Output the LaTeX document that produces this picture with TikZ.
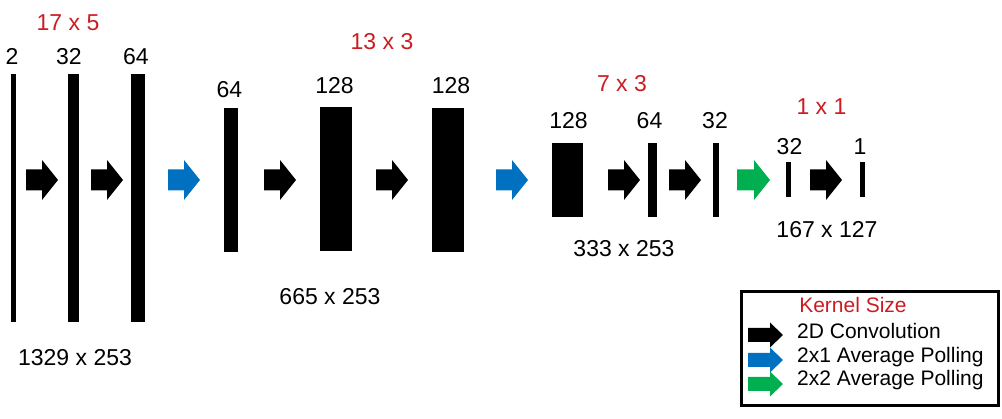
\documentclass[tikz,border=0pt]{standalone}
\usepackage{fontspec}
\setmainfont{Liberation Sans}
\definecolor{kred}{RGB}{204,28,34}
\definecolor{pblue}{RGB}{0,112,192}
\definecolor{pgreen}{RGB}{0,176,80}
% x, y, length, shaft length, half shaft, half head, colour
\newcommand\farrow[7]{%
  \fill[#7] (#1,#2-#5) -- ++(#4,0) -- (#1+#4,#2-#6) -- (#1+#3,#2)
    -- (#1+#4,#2+#6) -- (#1+#4,#2+#5) -- (#1,#2+#5) -- cycle;}
\newcommand\bigarr[2]{\farrow{#1}{180}{32}{16}{10.5}{20}{#2}}
\newcommand\legarr[2]{\farrow{748}{#1}{35}{22}{7}{12.5}{#2}}
\begin{document}
\begin{tikzpicture}[x=1pt,y=-1pt,
  bar/.style={fill=black,draw=none,inner sep=0pt,outer sep=0pt},
  lab/.style={inner sep=0pt,anchor=base,font=\fontsize{23}{27}\selectfont},
  klab/.style={lab,text=kred},
  leg/.style={inner sep=0pt,anchor=base west,font=\fontsize{21}{25}\selectfont}]
\useasboundingbox (0,0) rectangle (1002,419);
% bars: centre and size
\newcommand\barnode[5]{\node[bar,minimum width=#4pt,minimum height=#5pt] (#1) at (#2,#3) {};}
\barnode{b1}{13.5}{198}{5}{248}
\barnode{b2}{73.5}{198}{11}{248}
\barnode{b3}{138}{198}{14}{248}
\barnode{b4}{231}{180}{14}{144}
\barnode{b5}{336}{179}{32}{144}
\barnode{b6}{448}{180}{32}{144}
\barnode{b7}{567.5}{180}{31}{74}
\barnode{b8}{652.5}{180}{9}{74}
\barnode{b9}{716}{180}{6}{74}
\barnode{b10}{788.5}{179.5}{5}{35}
\barnode{b11}{862.5}{179.5}{5}{35}
% arrows
\bigarr{26}{black}
\bigarr{91}{black}
\bigarr{168}{pblue}
\bigarr{264}{black}
\bigarr{376}{black}
\bigarr{496}{pblue}
\bigarr{608}{black}
\bigarr{669}{black}
\farrow{737}{180}{33}{17}{10.5}{20}{pgreen}
\bigarr{810}{black}
% labels
\node[klab] (k1) at (68,31) {17 x 5};
\node[lab] (l1) at (12,65) {2};
\node[lab] (l2) at (69,65) {32};
\node[lab] (l3) at (136,65) {64};
\node[lab] (l4) at (229.5,98) {64};
\node[klab] (k2) at (382,50) {13 x 3};
\node[lab] (l5) at (334.5,94) {128};
\node[lab] (l6) at (451,94) {128};
\node[lab] (s2) at (330,305) {665 x 253};
\node[lab] (s1) at (75,366) {1329 x 253};
\node[klab] (k3) at (622,91.5) {7 x 3};
\node[lab] (l7) at (568.5,129) {128};
\node[lab] (l8) at (649.5,129) {64};
\node[lab] (l9) at (715,129) {32};
\node[lab] (s3) at (624,256.5) {333 x 253};
\node[klab] (k4) at (821.5,115) {1 x 1};
\node[lab] (l10) at (789.5,155) {32};
\node[lab] (l11) at (860,155) {1};
\node[lab] (s4) at (827,238) {167 x 127};
% legend
\draw[line width=3pt] (741.5,291.5) rectangle (998.5,405.5);
\node[inner sep=0pt,anchor=base,font=\fontsize{21}{25}\selectfont,text=kred] (kt) at (853,313) {Kernel Size};
\legarr{335}{black}
\legarr{360}{pblue}
\legarr{384}{pgreen}
\node[leg] (t1) at (797,339) {2D Convolution};
\node[leg] (t2) at (797,362.5) {2x1 Average Polling};
\node[leg] (t3) at (797,386) {2x2 Average Polling};
\end{tikzpicture}
\end{document}
